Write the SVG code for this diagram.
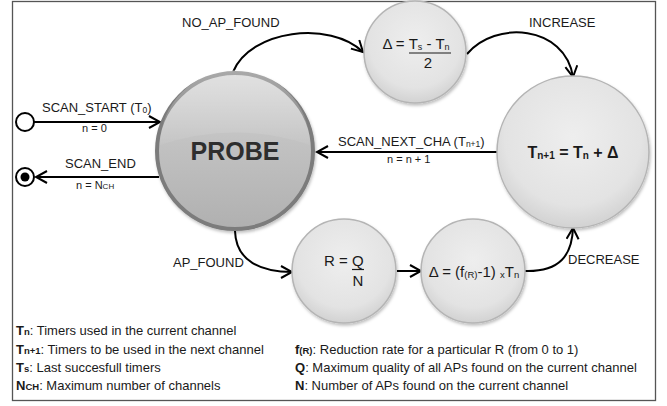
<svg xmlns="http://www.w3.org/2000/svg" width="667" height="406" viewBox="0 0 667 406">
<style>
text{font-family:"Liberation Sans",Arial,sans-serif;fill:#1a1a1a}
.lbl{font-size:13px}
.small{font-size:11px}
.node{font-size:15px}
.leg{font-size:13px}
.b{font-weight:bold}
.conn{fill:none;stroke:#000;stroke-width:2}
.light{fill:url(#lightGrad);stroke:#b4b4b4;stroke-width:1.5;filter:url(#shadow)}
</style>
<defs>
<radialGradient id="lightGrad" cx="50%" cy="40%" r="60%">
<stop offset="0%" stop-color="#eeeeee"/>
<stop offset="75%" stop-color="#e3e3e3"/>
<stop offset="100%" stop-color="#d2d2d2"/>
</radialGradient>
<linearGradient id="probeGrad" x1="0" y1="0" x2="0" y2="1">
<stop offset="0%" stop-color="#d2d2d2"/>
<stop offset="50%" stop-color="#c0c0c0"/>
<stop offset="100%" stop-color="#b0b0b0"/>
</linearGradient>
<linearGradient id="gloss" x1="0" y1="0" x2="0" y2="1">
<stop offset="0%" stop-color="#ffffff" stop-opacity="0.35"/>
<stop offset="100%" stop-color="#ffffff" stop-opacity="0.05"/>
</linearGradient>
<filter id="shadow" x="-20%" y="-20%" width="140%" height="140%">
<feDropShadow dx="1" dy="2" stdDeviation="1.5" flood-color="#000" flood-opacity="0.25"/>
</filter>
<marker id="arr" markerWidth="14" markerHeight="14" refX="12" refY="7" orient="auto" markerUnits="userSpaceOnUse">
<path d="M1,1 L12,7 L1,13" fill="none" stroke="#000" stroke-width="2"/>
</marker>
</defs>

<rect x="12.5" y="1.5" width="643" height="399" fill="#fff" stroke="#555" stroke-width="1.3"/>

<g id="connectors">
<path class="conn" d="M34,122 L160,122" marker-end="url(#arr)"/>
<path class="conn" d="M159,177 L36,177" marker-end="url(#arr)"/>
<path class="conn" d="M233,72 C250,30 330,20 363,52" marker-end="url(#arr)"/>
<path class="conn" d="M467,54 C495,20 565,25 573,77" marker-end="url(#arr)"/>
<path class="conn" d="M497,152 L317,152" marker-end="url(#arr)"/>
<path class="conn" d="M235,231 C236,262 262,272 292,272" marker-end="url(#arr)"/>
<path class="conn" d="M397,271 L421,271" marker-end="url(#arr)"/>
<path class="conn" d="M525,271 C560,272 572,255 573,228" marker-end="url(#arr)"/>
</g>

<g id="start">
<circle cx="25" cy="122" r="9" fill="#fff" stroke="#000" stroke-width="2"/>
</g>
<g id="end">
<circle cx="25" cy="177" r="9" fill="#fff" stroke="#000" stroke-width="2"/>
<circle cx="25" cy="177" r="4.5" fill="#000"/>
</g>

<g id="probe">
<circle cx="235" cy="151" r="78" fill="url(#probeGrad)" stroke="#7c7c7c" stroke-width="4" filter="url(#shadow)"/>
<path d="M160,145 A75,75 0 0 1 310,145 Q235,120 160,145 Z" fill="url(#gloss)"/>
<text x="235" y="160" text-anchor="middle" class="b" style="font-size:25px;fill:#2e2e2e">PROBE</text>
</g>

<g id="delta-increase">
<circle class="light" cx="415" cy="52" r="51"/>
<text x="416" y="49" text-anchor="middle" class="node">Δ = T<tspan font-size="9" dy="1">s</tspan><tspan dy="-1"> - T</tspan><tspan font-size="9" dy="1">n</tspan></text>
<line x1="409" y1="53" x2="451" y2="53" stroke="#1a1a1a" stroke-width="1.2"/>
<text x="428" y="68" text-anchor="middle" class="node">2</text>
</g>

<g id="next-timers">
<circle class="light" cx="573" cy="152" r="76"/>
<text x="573" y="158" text-anchor="middle" class="b" style="font-size:16px">T<tspan font-size="10" dy="1">n+1</tspan><tspan dy="-1"> = T</tspan><tspan font-size="10" dy="1">n</tspan><tspan dy="-1"> + Δ</tspan></text>
</g>

<g id="ratio">
<circle class="light" cx="344" cy="271" r="52"/>
<text x="324" y="266" class="node">R = Q</text>
<line x1="352" y1="269.5" x2="364" y2="269.5" stroke="#1a1a1a" stroke-width="1.2"/>
<text x="358" y="286" text-anchor="middle" class="node">N</text>
</g>

<g id="delta-decrease">
<circle class="light" cx="473" cy="271" r="52"/>
<text x="474" y="277" text-anchor="middle" class="node">Δ = (f<tspan font-size="9.5" dy="1">(R)</tspan><tspan dy="-1">-1) </tspan><tspan font-size="9.5" dy="1">x</tspan><tspan dy="-1">T</tspan><tspan font-size="9.5" dy="1">n</tspan></text>
</g>

<g id="labels">
<text x="42" y="112" class="lbl">SCAN_START (T<tspan font-size="8.5" dy="1">0</tspan><tspan dy="-1">)</tspan></text>
<text x="82" y="132" class="small">n = 0</text>
<text x="65" y="168" class="lbl">SCAN_END</text>
<text x="76" y="189" class="small">n = N<tspan font-size="8">CH</tspan></text>
<text x="182" y="27" class="lbl">NO_AP_FOUND</text>
<text x="529" y="27" class="lbl">INCREASE</text>
<text x="338" y="146" class="lbl">SCAN_NEXT_CHA (T<tspan font-size="8.5" dy="1">n+1</tspan><tspan dy="-1">)</tspan></text>
<text x="387" y="163" class="small">n = n + 1</text>
<text x="173" y="267" class="lbl">AP_FOUND</text>
<text x="568" y="264" class="lbl">DECREASE</text>
</g>

<g id="legend">
<text x="16" y="335" class="leg"><tspan class="b">T</tspan><tspan class="b" font-size="9.5">n</tspan>: Timers used in the current channel</text>
<text x="16" y="353.5" class="leg"><tspan class="b">T</tspan><tspan class="b" font-size="9.5">n+1</tspan>: Timers to be used in the next channel</text>
<text x="16" y="372" class="leg"><tspan class="b">T</tspan><tspan class="b" font-size="9.5">s</tspan>: Last succesfull timers</text>
<text x="16" y="390" class="leg"><tspan class="b">N</tspan><tspan class="b" font-size="9.5">CH</tspan>: Maximum number of channels</text>
<text x="295" y="353.5" class="leg"><tspan class="b">f</tspan><tspan class="b" font-size="9.5">(R)</tspan>: Reduction rate for a particular R (from 0 to 1)</text>
<text x="295" y="372" class="leg"><tspan class="b">Q</tspan>: Maximum quality of all APs found on the current channel</text>
<text x="295" y="390" class="leg"><tspan class="b">N</tspan>: Number of APs found on the current channel</text>
</g>
</svg>
